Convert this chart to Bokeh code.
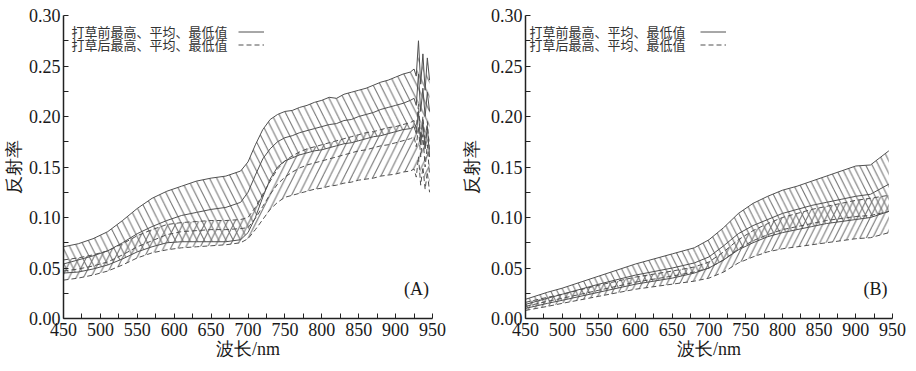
from bokeh.plotting import figure
from bokeh.layouts import row
from bokeh.models import (Range1d, FixedTicker, PrintfTickFormatter,
                          Label, Legend, LegendItem)
from bokeh.core.properties import value
from bokeh.embed import file_html
from bokeh.resources import INLINE

# ---------------- Panel A data ----------------
wl_a = [450, 470, 490, 510, 530, 550, 570, 590, 610, 630, 650, 670, 690, 700, 710,
        720, 730, 740, 750, 760, 770, 780, 790, 800, 810, 820, 830, 840, 850, 860,
        870, 880, 890, 900, 910, 920, 925, 928, 931, 934, 937, 940, 943, 946]
before_max_a = [0.071, 0.074, 0.079, 0.086, 0.097, 0.109, 0.119, 0.126, 0.131, 0.136, 0.139, 0.141, 0.146, 0.155, 0.172,
                0.187, 0.197, 0.202, 0.205, 0.206, 0.209, 0.211, 0.214, 0.216, 0.219, 0.218, 0.222, 0.224, 0.226, 0.228,
                0.231, 0.234, 0.236, 0.239, 0.242, 0.244, 0.247, 0.240, 0.275, 0.232, 0.262, 0.226, 0.258, 0.236]
before_mean_a = [0.054, 0.058, 0.062, 0.067, 0.075, 0.084, 0.091, 0.097, 0.102, 0.105, 0.108, 0.110, 0.115, 0.125, 0.142,
                 0.158, 0.168, 0.175, 0.179, 0.181, 0.184, 0.186, 0.188, 0.190, 0.192, 0.193, 0.196, 0.197, 0.200, 0.202,
                 0.204, 0.207, 0.209, 0.211, 0.213, 0.216, 0.218, 0.211, 0.242, 0.205, 0.228, 0.200, 0.224, 0.205]
before_min_a = [0.045, 0.046, 0.049, 0.053, 0.059, 0.066, 0.071, 0.075, 0.076, 0.076, 0.076, 0.076, 0.078, 0.085, 0.100,
                0.120, 0.138, 0.150, 0.156, 0.159, 0.162, 0.164, 0.166, 0.167, 0.169, 0.171, 0.173, 0.174, 0.176, 0.178,
                0.180, 0.181, 0.183, 0.185, 0.187, 0.188, 0.190, 0.183, 0.205, 0.172, 0.195, 0.168, 0.190, 0.160]
after_max_a = [0.058, 0.060, 0.063, 0.067, 0.074, 0.082, 0.088, 0.093, 0.095, 0.096, 0.097, 0.097, 0.098, 0.100, 0.110,
               0.123, 0.136, 0.148, 0.156, 0.161, 0.165, 0.168, 0.170, 0.172, 0.174, 0.176, 0.178, 0.180, 0.182, 0.184,
               0.185, 0.187, 0.189, 0.190, 0.192, 0.194, 0.196, 0.188, 0.212, 0.178, 0.200, 0.172, 0.195, 0.165]
after_mean_a = [0.047, 0.049, 0.052, 0.056, 0.063, 0.071, 0.077, 0.083, 0.086, 0.087, 0.088, 0.088, 0.089, 0.090, 0.099,
                0.111, 0.123, 0.133, 0.140, 0.145, 0.149, 0.152, 0.154, 0.156, 0.158, 0.160, 0.162, 0.164, 0.166, 0.167,
                0.169, 0.171, 0.172, 0.174, 0.176, 0.178, 0.180, 0.170, 0.190, 0.160, 0.182, 0.150, 0.172, 0.142]
after_min_a = [0.038, 0.040, 0.043, 0.047, 0.053, 0.060, 0.065, 0.068, 0.070, 0.071, 0.072, 0.073, 0.075, 0.079, 0.088,
               0.098, 0.108, 0.115, 0.120, 0.122, 0.124, 0.126, 0.128, 0.129, 0.131, 0.132, 0.134, 0.135, 0.137, 0.138,
               0.139, 0.141, 0.142, 0.143, 0.145, 0.146, 0.148, 0.140, 0.160, 0.132, 0.150, 0.128, 0.145, 0.125]

# ---------------- Panel B data ----------------
wl_b = [450, 480, 500, 550, 600, 650, 680, 700, 720, 740, 760, 780, 800, 820, 840, 860, 880, 900, 920, 945]
before_max_b = [0.019, 0.026, 0.030, 0.042, 0.054, 0.064, 0.070, 0.078, 0.090, 0.104, 0.114, 0.121, 0.127, 0.131,
                0.136, 0.141, 0.146, 0.151, 0.152, 0.166]
before_mean_b = [0.014, 0.020, 0.024, 0.034, 0.043, 0.050, 0.055, 0.061, 0.072, 0.084, 0.092, 0.098, 0.104, 0.108,
                 0.112, 0.115, 0.118, 0.121, 0.123, 0.133]
before_min_b = [0.010, 0.015, 0.018, 0.026, 0.034, 0.040, 0.045, 0.050, 0.058, 0.068, 0.075, 0.081, 0.085, 0.088,
                0.091, 0.094, 0.096, 0.098, 0.100, 0.106]
after_max_b = [0.016, 0.021, 0.024, 0.033, 0.041, 0.047, 0.051, 0.056, 0.066, 0.078, 0.087, 0.094, 0.100, 0.104,
               0.108, 0.111, 0.114, 0.117, 0.119, 0.122]
after_mean_b = [0.012, 0.017, 0.020, 0.028, 0.036, 0.042, 0.046, 0.050, 0.058, 0.069, 0.077, 0.083, 0.088, 0.091,
                0.094, 0.097, 0.099, 0.101, 0.102, 0.106]
after_min_b = [0.008, 0.012, 0.015, 0.022, 0.029, 0.034, 0.037, 0.040, 0.046, 0.055, 0.061, 0.066, 0.069, 0.071,
               0.073, 0.075, 0.077, 0.079, 0.080, 0.085]

# ---------------- ticks and texts ----------------
x_ticks = [450, 500, 550, 600, 650, 700, 750, 800, 850, 900, 950]
x_minor = [475, 525, 575, 625, 675, 725, 775, 825, 875, 925]
y_ticks = [0.0, 0.05, 0.10, 0.15, 0.20, 0.25, 0.30]
y_minor = [0.025, 0.075, 0.125, 0.175, 0.225, 0.275]
legend_before = "打草前最高、平均、最低值"
legend_after = "打草后最高、平均、最低值"
x_title = "波长/nm"
y_title = "反射率"

SERIF = "Liberation Serif"
CJK = "Noto Sans CJK SC"
LINE_C = "#505050"
HATCH_C = "#6a6a6a"
TXT_C = "#1a1a1a"

FIG_W = 458
FIG_H = 371


def make_panel(wl, bmax, bmean, bmin, amax, amean, amin, tag, left, fw, hscale,
               ytitle_standoff, tag_x, text_x):
    fh = 303
    p = figure(width=FIG_W, height=FIG_H, x_range=Range1d(450, 950), y_range=Range1d(0, 0.30),
               output_backend="svg", toolbar_location=None,
               min_border_left=left, min_border_right=FIG_W - left - fw,
               min_border_top=15, min_border_bottom=FIG_H - 15 - fh)
    p.xgrid.visible = False
    p.ygrid.visible = False
    p.outline_line_color = None
    p.background_fill_color = "white"

    # hatched bands
    p.varea(x=wl, y1=amin, y2=amax, fill_color=None, hatch_pattern="/",
            hatch_color=HATCH_C, hatch_scale=hscale, hatch_weight=1.0)
    p.varea(x=wl, y1=bmin, y2=bmax, fill_color=None, hatch_pattern="\\",
            hatch_color=HATCH_C, hatch_scale=hscale, hatch_weight=1.0)

    # boundary / mean lines
    for ys in (amax, amean, amin):
        ra = p.line(wl, ys, line_color=LINE_C, line_width=1, line_dash="5 3")
    for ys in (bmax, bmean, bmin):
        rb = p.line(wl, ys, line_color=LINE_C, line_width=1)

    # axes
    for ax in (p.xaxis[0], p.yaxis[0]):
        ax.axis_line_color = "#222222"
        ax.axis_line_width = 1.5
        ax.major_tick_in = 5
        ax.major_tick_out = 0
        ax.minor_tick_in = 5
        ax.minor_tick_out = 0
        ax.major_tick_line_color = "#222222"
        ax.minor_tick_line_color = "#222222"
        ax.major_label_text_font = SERIF
        ax.major_label_text_font_size = "18px"
        ax.major_label_text_color = TXT_C
        ax.axis_label_text_font = SERIF
        ax.axis_label_text_font_size = "18px"
        ax.axis_label_text_font_style = "normal"
        ax.axis_label_text_color = TXT_C
    p.xaxis[0].ticker = FixedTicker(ticks=x_ticks, minor_ticks=x_minor)
    p.yaxis[0].ticker = FixedTicker(ticks=y_ticks, minor_ticks=y_minor)
    p.yaxis[0].formatter = PrintfTickFormatter(format="%.2f")
    p.xaxis[0].axis_label = x_title
    p.yaxis[0].axis_label = y_title
    p.xaxis[0].major_label_standoff = 4
    p.xaxis[0].axis_label_standoff = 0
    p.yaxis[0].major_label_standoff = 3
    p.yaxis[0].axis_label_standoff = ytitle_standoff

    # legend texts (left) and line samples (right)
    for txt, yy in ((legend_before, fh - 16), (legend_after, fh - 29)):
        p.add_layout(Label(x=text_x, y=yy, x_units="screen", y_units="screen",
                           text=txt, text_font=CJK, text_font_size="13px",
                           text_color="#333333", text_baseline="middle", text_align="left"))
    leg = Legend(items=[LegendItem(label=value(" "), renderers=[rb]),
                        LegendItem(label=value(" "), renderers=[ra])],
                 location=(175, fh - 9.5 - 26), orientation="vertical",
                 glyph_width=26, glyph_height=13, label_height=13, label_width=1,
                 label_standoff=0, spacing=0, padding=0, margin=0,
                 border_line_color=None, background_fill_alpha=0,
                 label_text_font_size="13px")
    p.add_layout(leg)

    p.add_layout(Label(x=tag_x, y=30, x_units="screen", y_units="screen", text=tag,
                       text_font=SERIF, text_font_size="18px",
                       text_color=TXT_C, text_baseline="middle", text_align="center"))
    return p


pA = make_panel(wl_a, before_max_a, before_mean_a, before_min_a,
                after_max_a, after_mean_a, after_min_a, "(A)", 62, 370, 14.5,
                2, 353, 8)
pB = make_panel(wl_b, before_max_b, before_mean_b, before_min_b,
                after_max_b, after_mean_b, after_min_b, "(B)", 67, 367, 12.6,
                6, 350, 4)

layout = row(pA, pB)
open("out.html", "w").write(file_html(layout, INLINE))
